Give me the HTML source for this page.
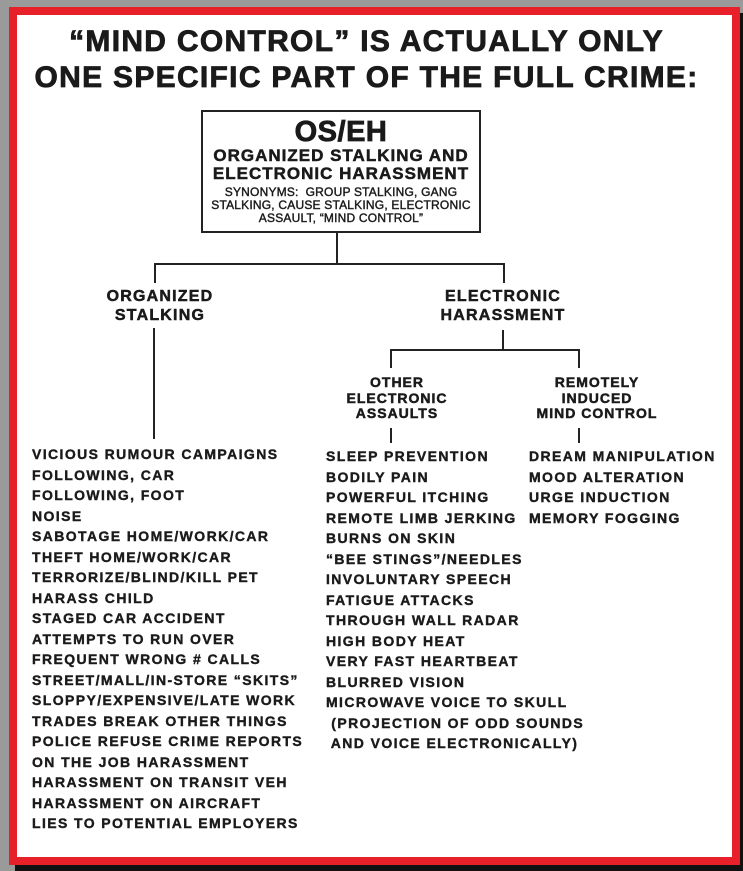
<!DOCTYPE html>
<html><head><meta charset="utf-8"><style>
*{margin:0;padding:0;box-sizing:border-box}
body{width:743px;height:871px;background:#9a9a9a;position:relative;overflow:hidden;font-family:"Liberation Sans",Arial,sans-serif;font-weight:bold;color:#1a1a1a}
.shadow{position:absolute;left:15px;top:13px;width:728px;height:858px;background:#111}
.frame{position:absolute;left:9px;top:7px;width:731px;height:858px;background:#fff;border:8px solid #e8202a}
.t{position:absolute;white-space:nowrap;-webkit-text-stroke:0.5px #1a1a1a}
.c{text-align:center}
.l{position:absolute;background:#222}
.list{position:absolute;font-size:14px;line-height:20.5px;white-space:pre;letter-spacing:1.4px;-webkit-text-stroke:0.4px #1a1a1a}
</style></head><body>
<div class="shadow"></div>
<div class="frame"></div>
<div class="t c" style="left:0;width:733px;top:24px;font-size:30px;line-height:36px;letter-spacing:1.3px;-webkit-text-stroke:0.8px #1a1a1a">“MIND CONTROL” IS ACTUALLY ONLY<br>ONE SPECIFIC PART OF THE FULL CRIME:</div>
<div style="position:absolute;left:201px;top:110px;width:280px;height:123px;border:2px solid #222"></div>
<div class="t c" style="left:201px;width:280px;top:116px;font-size:29px;line-height:32px;letter-spacing:0.5px;-webkit-text-stroke:0.8px #1a1a1a">OS/EH</div>
<div class="t c" style="left:201px;width:280px;top:147px;font-size:17px;line-height:18px;letter-spacing:1px">ORGANIZED STALKING AND<br>ELECTRONIC HARASSMENT</div>
<div class="t c" style="left:201px;width:280px;top:186px;font-size:12px;line-height:13px;font-weight:normal;-webkit-text-stroke:0.4px #1a1a1a;letter-spacing:0.2px">SYNONYMS:&nbsp; GROUP STALKING, GANG<br>STALKING, CAUSE STALKING, ELECTRONIC<br>ASSAULT, “MIND CONTROL”</div>
<div class="l" style="left:336px;top:232px;width:2px;height:32px"></div>
<div class="l" style="left:154px;top:263px;width:351px;height:2px"></div>
<div class="l" style="left:154px;top:263px;width:2px;height:20px"></div>
<div class="l" style="left:503px;top:263px;width:2px;height:20px"></div>
<div class="t c" style="left:60px;width:200px;top:287px;font-size:16px;line-height:19px;letter-spacing:1.2px">ORGANIZED<br>STALKING</div>
<div class="t c" style="left:403px;width:200px;top:287px;font-size:16px;line-height:19px;letter-spacing:1.2px">ELECTRONIC<br>HARASSMENT</div>
<div class="l" style="left:153px;top:328px;width:2px;height:111px"></div>
<div class="l" style="left:502px;top:330px;width:2px;height:20px"></div>
<div class="l" style="left:390px;top:349px;width:190px;height:2px"></div>
<div class="l" style="left:390px;top:349px;width:2px;height:19px"></div>
<div class="l" style="left:578px;top:349px;width:2px;height:19px"></div>
<div class="t c" style="left:297px;width:200px;top:375px;font-size:14px;line-height:15.5px;letter-spacing:1px">OTHER<br>ELECTRONIC<br>ASSAULTS</div>
<div class="t c" style="left:497px;width:200px;top:375px;font-size:14px;line-height:15.5px;letter-spacing:1px">REMOTELY<br>INDUCED<br>MIND CONTROL</div>
<div class="l" style="left:390px;top:428px;width:2px;height:15px"></div>
<div class="l" style="left:578px;top:428px;width:2px;height:15px"></div>
<div class="list" style="left:32px;top:444px">VICIOUS RUMOUR CAMPAIGNS
FOLLOWING, CAR
FOLLOWING, FOOT
NOISE
SABOTAGE HOME/WORK/CAR
THEFT HOME/WORK/CAR
TERRORIZE/BLIND/KILL PET
HARASS CHILD
STAGED CAR ACCIDENT
ATTEMPTS TO RUN OVER
FREQUENT WRONG # CALLS
STREET/MALL/IN-STORE “SKITS”
SLOPPY/EXPENSIVE/LATE WORK
TRADES BREAK OTHER THINGS
POLICE REFUSE CRIME REPORTS
ON THE JOB HARASSMENT
HARASSMENT ON TRANSIT VEH
HARASSMENT ON AIRCRAFT
LIES TO POTENTIAL EMPLOYERS</div>
<div class="list" style="left:326px;top:446px">SLEEP PREVENTION
BODILY PAIN
POWERFUL ITCHING
REMOTE LIMB JERKING
BURNS ON SKIN
“BEE STINGS”/NEEDLES
INVOLUNTARY SPEECH
FATIGUE ATTACKS
THROUGH WALL RADAR
HIGH BODY HEAT
VERY FAST HEARTBEAT
BLURRED VISION
MICROWAVE VOICE TO SKULL
 (PROJECTION OF ODD SOUNDS
 AND VOICE ELECTRONICALLY)</div>
<div class="list" style="left:529px;top:446px">DREAM MANIPULATION
MOOD ALTERATION
URGE INDUCTION
MEMORY FOGGING</div>
</body></html>
